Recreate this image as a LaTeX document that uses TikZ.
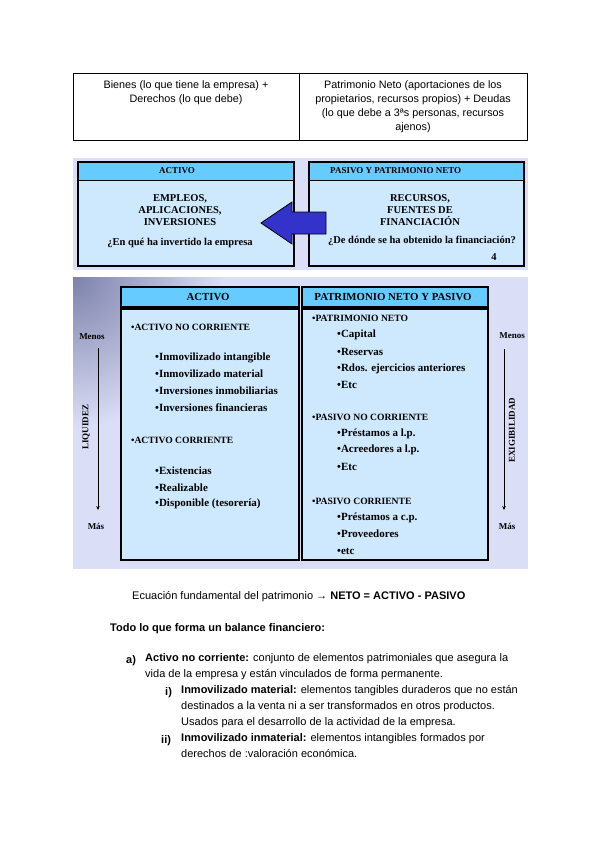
\documentclass[tikz,border=0pt]{standalone}
\usepackage{fontspec}
\setmainfont{Liberation Serif}
\newfontfamily\arial{Liberation Sans}
\usetikzlibrary{arrows.meta}
\definecolor{bgl}{RGB}{218,222,247}
\definecolor{hdr}{RGB}{102,204,255}
\definecolor{bdy}{RGB}{206,232,253}
\definecolor{arr}{RGB}{51,51,204}
\definecolor{shd}{RGB}{125,130,170}
\tikzset{
  sans/.style={font=\arial\fontsize{10.8}{14}\selectfont, inner sep=0pt},
  hd2/.style={font=\bfseries\fontsize{9}{10}\selectfont, inner sep=0pt},
  bd2/.style={font=\bfseries\fontsize{10.5}{12}\selectfont, inner sep=0pt},
  sec/.style={font=\bfseries\fontsize{9.6}{11}\selectfont, inner sep=0pt, anchor=west},
  itm/.style={font=\bfseries\fontsize{11}{12}\selectfont, inner sep=0pt, anchor=west},
  hd3/.style={font=\bfseries\fontsize{10.8}{12}\selectfont, inner sep=0pt},
  side/.style={font=\bfseries\fontsize{9}{10}\selectfont, inner sep=0pt},
  boxline/.style={draw=black, line width=1.4pt},
  txt/.style={font=\arial\fontsize{11}{16}\selectfont, inner sep=0pt, anchor=west},
}
\begin{document}
\begin{tikzpicture}[x=1pt,y=-1pt]
\useasboundingbox (0,0) rectangle (600,848);
% ---- table ----
\draw[line width=0.8pt] (73,73) rectangle (527,140);
\draw[line width=0.8pt] (299,73) -- (299,140);
\node[sans, align=center] (t1) at (186,93) {Bienes (lo que tiene la empresa) +\\Derechos (lo que debe)};
\node[sans, align=center] (t2) at (413,107) {Patrimonio Neto (aportaciones de los\\propietarios, recursos propios) + Deudas\\(lo que debe a 3ªs personas, recursos\\ajenos)};
% ---- image 2 ----
\fill[bgl] (73,158) rectangle (528,270);
\fill[bdy] (78,162) rectangle (294,266);
\fill[hdr] (78,162) rectangle (294,180);
\draw[line width=1pt] (78,180) -- (294,180);
\draw[line width=1.2pt] (78,162) rectangle (294,266);
\fill[bdy] (309,162) rectangle (524,266);
\fill[hdr] (309,162) rectangle (524,180);
\draw[line width=1pt] (309,180) -- (524,180);
\draw[line width=1.2pt] (309,162) rectangle (524,266);
\node[hd2] (a2h) at (177,171) {ACTIVO};
\node[hd2, anchor=west] (p2h) at (330,171) {PASIVO Y PATRIMONIO NETO};
\node[bd2, align=center] (a2b) at (180,210) {EMPLEOS,\\APLICACIONES,\\INVERSIONES};
\node[bd2] (a2q) at (180,243) {¿En qué ha invertido la empresa};
\node[bd2, align=center] (p2b) at (420,210) {RECURSOS,\\FUENTES DE\\FINANCIACIÓN};
\node[bd2] (p2q) at (422,241) {¿De dónde se ha obtenido la financiación?};
\node[bd2] (p2n) at (494,257) {4};
\fill[arr, draw=black, line width=0.8pt] (261,223) -- (292,202) -- (292,212) -- (326,212) -- (326,234) -- (292,234) -- (292,244) -- cycle;
% ---- image 3 ----
\fill[bgl] (73,277) rectangle (528,569);
\begin{scope}
\clip (73,277) rectangle (528,569);
\shade[inner color=shd, outer color=bgl] (73,277) circle (150);
\end{scope}
\fill[hdr] (121,287) rectangle (299,307);
\draw[boxline] (121,287) rectangle (299,307);
\fill[hdr] (302,287) rectangle (488,307);
\draw[boxline] (302,287) rectangle (488,307);
\fill[bdy] (121,309) rectangle (299,560);
\draw[boxline] (121,309) rectangle (299,560);
\fill[bdy] (302,309) rectangle (488,560);
\draw[boxline] (302,309) rectangle (488,560);
\node[hd3] (a3h) at (208,297) {ACTIVO};
\node[hd3] (p3h) at (393,297) {PATRIMONIO NETO Y PASIVO};
% left body
\node[sec] (anc) at (131,327) {•ACTIVO NO CORRIENTE};
\node[itm] (l1) at (155,358) {•Inmovilizado intangible};
\node[itm] (l2) at (155,374) {•Inmovilizado material};
\node[itm] (l3) at (155,391) {•Inversiones inmobiliarias};
\node[itm] (l4) at (155,408) {•Inversiones financieras};
\node[sec] (ac) at (131,440) {•ACTIVO CORRIENTE};
\node[itm] (l5) at (155,471) {•Existencias};
\node[itm] (l6) at (155,488) {•Realizable};
\node[itm] (l7) at (155,504) {•Disponible (tesorería)};
% right body
\node[sec] (pn) at (312,318) {•PATRIMONIO NETO};
\node[itm] (r1) at (337,335) {•Capital};
\node[itm] (r2) at (337,352) {•Reservas};
\node[itm] (r3) at (337,369) {•Rdos. ejercicios anteriores};
\node[itm] (r4) at (337,385) {•Etc};
\node[sec] (pnc) at (312,417) {•PASIVO NO CORRIENTE};
\node[itm] (r5) at (337,434) {•Préstamos a l.p.};
\node[itm] (r6) at (337,450) {•Acreedores a l.p.};
\node[itm] (r7) at (337,467) {•Etc};
\node[sec] (pc) at (312,501) {•PASIVO CORRIENTE};
\node[itm] (r8) at (337,518) {•Préstamos a c.p.};
\node[itm] (r9) at (337,534) {•Proveedores};
\node[itm] (r10) at (337,551) {•etc};
% sides
\node[side] (mL) at (92,337) {Menos};
\node[side] (xL) at (96,526) {Más};
\node[side, rotate=90] (liq) at (86,427) {LIQUIDEZ};
\coordinate (la) at (98,348);
\coordinate (lb) at (98,510);
\draw[line width=1pt, -{Stealth[length=4pt,width=3.5pt]}] (la) -- (lb);
\node[side] (mR) at (512,336) {Menos};
\node[side] (xR) at (507,526) {Más};
\node[side, rotate=90] (exi) at (512,430) {EXIGIBILIDAD};
\coordinate (ra) at (504,349);
\coordinate (rb) at (504,510);
\draw[line width=1pt, -{Stealth[length=4pt,width=3.5pt]}] (ra) -- (rb);
% ---- text below ----
\node[txt] (eq) at (132,597) {Ecuación fundamental del patrimonio → \textbf{NETO = ACTIVO - PASIVO}};
\node[txt] (tb) at (110,629) {\bfseries Todo lo que forma un balance financiero:};
\node[txt] (la1) at (126,661) {\bfseries a)};
\node[txt, align=left, anchor=north west] (a1) at (145,653) {\textbf{Activo no corriente:} conjunto de elementos patrimoniales que asegura la\\vida de la empresa y están vinculados de forma permanente.};
\node[txt] (li1) at (165,693) {\bfseries i)};
\node[txt, align=left, anchor=north west] (i1) at (181,685) {\textbf{Inmovilizado material:} elementos tangibles duraderos que no están\\destinados a la venta ni a ser transformados en otros productos.\\Usados para el desarrollo de la actividad de la empresa.};
\node[txt] (li2) at (161,741) {\bfseries ii)};
\node[txt, align=left, anchor=north west] (i2) at (181,733) {\textbf{Inmovilizado inmaterial:} elementos intangibles formados por\\derechos de :valoración económica.};
\end{tikzpicture}
\end{document}
